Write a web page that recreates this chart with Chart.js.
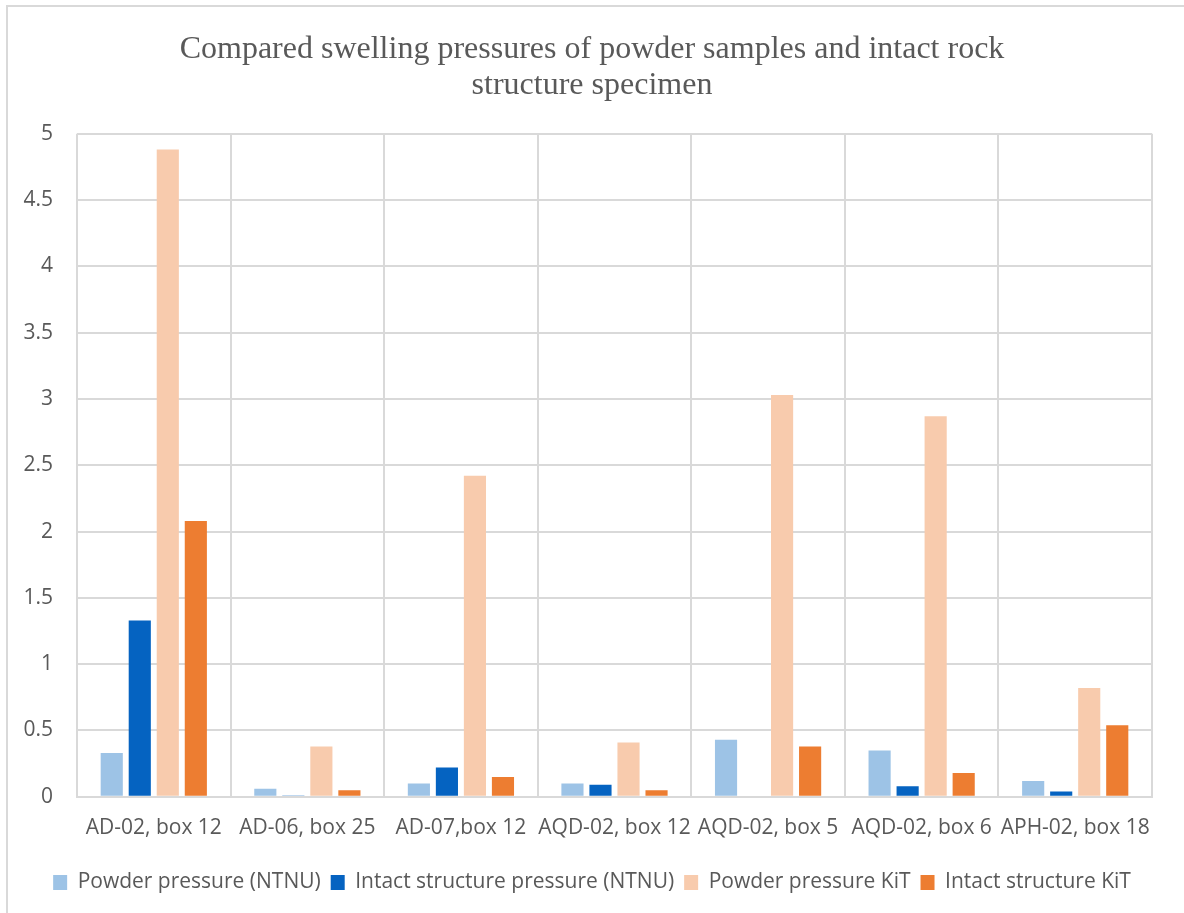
<!DOCTYPE html>
<html>
<head>
<meta charset="utf-8">
<script src="https://cdn.jsdelivr.net/npm/chart.js@4.4.1/dist/chart.umd.min.js"></script>
<style>
  body { margin: 0; background: #fff; }
  #wrap { position: absolute; left: 6px; top: 5px; width: 1190px; height: 920px; border: 2px solid #d9d9d9; box-sizing: border-box; }
  #chart { position: absolute; left: 0; top: 0; }
</style>
</head>
<body>
<div id="wrap"></div>
<canvas id="chart" width="1184" height="913"></canvas>
<script>
// sample names on the x axis
var categories = ['AD-02, box 12', 'AD-06, box 25', 'AD-07,box 12', 'AQD-02, box 12', 'AQD-02, box 5', 'AQD-02, box 6', 'APH-02, box 18'];

// swelling pressure values
var powderNTNU = [0.33, 0.06, 0.10, 0.10, 0.43, 0.35, 0.12];
var intactNTNU = [1.33, 0.01, 0.22, 0.09, null, 0.08, 0.04];
var powderKiT  = [4.88, 0.38, 2.42, 0.41, 3.03, 2.87, 0.82];
var intactKiT  = [2.08, 0.05, 0.15, 0.05, 0.38, 0.18, 0.54];

var seriesNames = ['Powder pressure (NTNU)', 'Intact structure pressure (NTNU)', 'Powder pressure KiT', 'Intact structure KiT'];
var seriesColors = ['#9dc3e6', '#0563c1', '#f8cbad', '#ed7d31'];

var yTicks = [0, 0.5, 1, 1.5, 2, 2.5, 3, 3.5, 4, 4.5, 5];

var allValues = [powderNTNU, intactNTNU, powderKiT, intactKiT];

var datasets = allValues.map(function (vals, i) {
    return {
        label: seriesNames[i],
        data: vals,
        backgroundColor: seriesColors[i],
        borderWidth: 0,
        categoryPercentage: 0.73,
        barPercentage: 0.79
    };
});

var tickFont = { family: 'Open Sans', size: 21 };

var ctx = document.getElementById('chart');
var myChart = new Chart(ctx, {
    type: 'bar',
    data: {
        labels: categories,
        datasets: datasets
    },
    options: {
        responsive: false,
        animation: false,
        layout: { padding: { left: 16, right: 16, top: 32, bottom: 10 } },
        plugins: {
            title: {
                display: true,
                text: ['Compared swelling pressures of powder samples and intact rock', 'structure specimen'],
                color: '#595959',
                font: { family: 'Liberation Serif', size: 32, weight: 'normal', lineHeight: 1.12 },
                padding: { top: 0, bottom: 30 }
            },
            legend: {
                position: 'bottom',
                labels: {
                    color: '#595959',
                    font: tickFont,
                    boxWidth: 14,
                    boxHeight: 15,
                    padding: 10
                }
            },
            tooltip: { enabled: false }
        },
        scales: {
            x: {
                grid: { color: '#d9d9d9', lineWidth: 2, offset: true, drawTicks: false },
                border: { color: '#d9d9d9', width: 2 },
                ticks: { color: '#595959', font: tickFont, padding: 19, maxRotation: 0, autoSkip: false },
                afterFit: function (scale) { scale.height += 2; }
            },
            y: {
                min: 0,
                max: 5,
                afterBuildTicks: function (axis) {
                    axis.ticks = yTicks.map(function (v) { return { value: v }; });
                },
                afterFit: function (scale) { scale.width = 61; },
                grid: { color: '#d9d9d9', lineWidth: 2, drawTicks: false },
                border: { display: false },
                ticks: {
                    color: '#595959',
                    font: tickFont,
                    padding: 24,
                    callback: function (v) { return String(v); }
                }
            },
            // empty right axis, only keeps the plot symmetric under the title
            yRight: {
                position: 'right',
                min: 0,
                max: 1,
                grid: { display: false },
                border: { display: false },
                ticks: { display: false },
                afterFit: function (scale) { scale.width = 16; }
            }
        }
    }
});
</script>
</body>
</html>
